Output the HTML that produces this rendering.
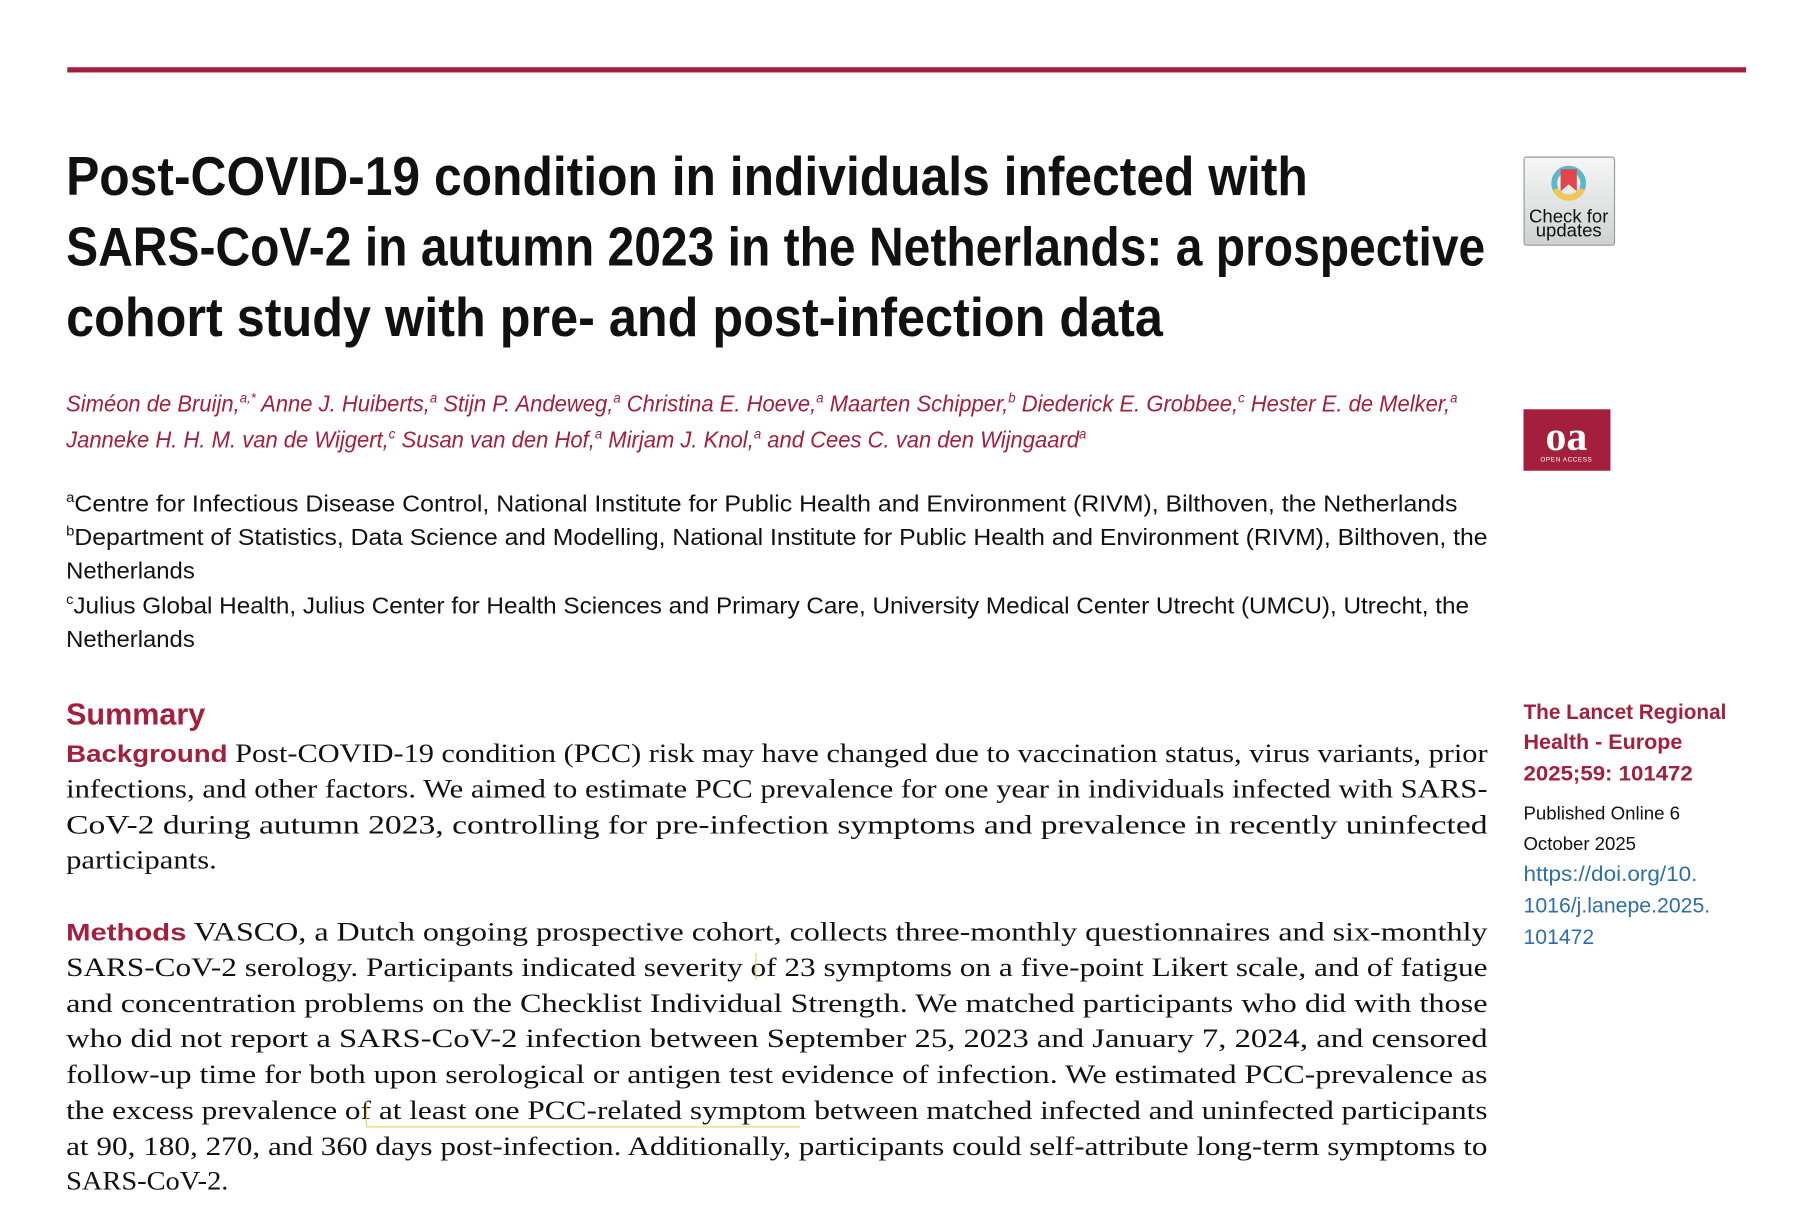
<!DOCTYPE html>
<html><head><meta charset="utf-8"><style>
html,body{margin:0;padding:0;background:#fff;width:1818px;height:1226px;overflow:hidden}
svg{display:block}
.t{font-family:"Liberation Sans",sans-serif;font-weight:bold;font-size:47px;fill:#111}
.a{font-family:"Liberation Sans",sans-serif;font-style:italic;font-size:20px;fill:#a31f3c}
.f{font-family:"Liberation Sans",sans-serif;font-size:20px;fill:#111}
.b{font-family:"Liberation Serif",serif;font-size:23px;fill:#111}
.r{font-family:"Liberation Sans",sans-serif;font-weight:bold;fill:#a31f3c}
.s{font-family:"Liberation Sans",sans-serif;font-size:16px;fill:#111}
.d{font-family:"Liberation Sans",sans-serif;font-size:18px;fill:#2f6ea8}
</style></head><body>
<svg width="1818" height="1226" viewBox="0 0 1568 1057.4" xmlns="http://www.w3.org/2000/svg">
<defs><linearGradient id="g" x1="0" y1="0" x2="0" y2="1"><stop offset="0" stop-color="#f7f7f7"/><stop offset="1" stop-color="#cfd1d1"/></linearGradient></defs>
<rect x="58" y="58" width="1448" height="4.5" fill="#a31f3c"/>
<text class="t" x="57" y="168" textLength="1071" lengthAdjust="spacingAndGlyphs">Post-COVID-19 condition in individuals infected with</text>
<text class="t" x="57" y="229" textLength="1224" lengthAdjust="spacingAndGlyphs">SARS-CoV-2 in autumn 2023 in the Netherlands: a prospective</text>
<text class="t" x="57" y="290" textLength="946" lengthAdjust="spacingAndGlyphs">cohort study with pre- and post-infection data</text>
<rect x="1314.5" y="135.5" width="78" height="76" rx="2" fill="url(#g)" stroke="#9a9a9a"/>
<circle cx="1353" cy="158" r="12.5" fill="none" stroke="#5bb8c9" stroke-width="5"/>
<path d="M1341.5 163 A12.5 12.5 0 0 0 1364.5 163" fill="none" stroke="#f3c64f" stroke-width="5"/>
<path d="M1346 146 h14 v19 l-7 -6 l-7 6z" fill="#e0474d"/>
<text class="s" x="1353" y="192" text-anchor="middle" font-size="11.5" fill="#444">Check for</text>
<text class="s" x="1353" y="204" text-anchor="middle" font-size="11.5" fill="#444">updates</text>
<text class="a" x="57" y="355" textLength="1200" lengthAdjust="spacingAndGlyphs">Siméon de Bruijn,<tspan font-size="12" dy="-8">a,*</tspan><tspan dy="8"> Anne J. Huiberts,</tspan><tspan font-size="12" dy="-8">a</tspan><tspan dy="8"> Stijn P. Andeweg,</tspan><tspan font-size="12" dy="-8">a</tspan><tspan dy="8"> Christina E. Hoeve,</tspan><tspan font-size="12" dy="-8">a</tspan><tspan dy="8"> Maarten Schipper,</tspan><tspan font-size="12" dy="-8">b</tspan><tspan dy="8"> Diederick E. Grobbee,</tspan><tspan font-size="12" dy="-8">c</tspan><tspan dy="8"> Hester E. de Melker,</tspan><tspan font-size="12" dy="-8">a</tspan></text>
<text class="a" x="57" y="386" textLength="880" lengthAdjust="spacingAndGlyphs">Janneke H. H. M. van de Wijgert,<tspan font-size="12" dy="-8">c</tspan><tspan dy="8"> Susan van den Hof,</tspan><tspan font-size="12" dy="-8">a</tspan><tspan dy="8"> Mirjam J. Knol,</tspan><tspan font-size="12" dy="-8">a</tspan><tspan dy="8"> and Cees C. van den Wijngaard</tspan><tspan font-size="12" dy="-8">a</tspan></text>
<rect x="1314" y="353" width="75" height="53" fill="#a31f3c"/>
<text x="1351" y="388" text-anchor="middle" font-family="Liberation Serif,serif" font-weight="bold" font-size="36" fill="#fff">oa</text>
<text x="1351" y="398" text-anchor="middle" font-family="Liberation Sans,sans-serif" font-size="5.5" fill="#fff" letter-spacing="0.5">OPEN ACCESS</text>
<text class="f" x="57" y="441" textLength="1200" lengthAdjust="spacingAndGlyphs"><tspan font-size="12" dy="-8">a</tspan><tspan dy="8">Centre for Infectious Disease Control, National Institute for Public Health and Environment (RIVM), Bilthoven, the Netherlands</tspan></text>
<text class="f" x="57" y="470" textLength="1226" lengthAdjust="spacingAndGlyphs"><tspan font-size="12" dy="-8">b</tspan><tspan dy="8">Department of Statistics, Data Science and Modelling, National Institute for Public Health and Environment (RIVM), Bilthoven, the</tspan></text>
<text class="f" x="57" y="499" textLength="111" lengthAdjust="spacingAndGlyphs">Netherlands</text>
<text class="f" x="57" y="529" textLength="1210" lengthAdjust="spacingAndGlyphs"><tspan font-size="12" dy="-8">c</tspan><tspan dy="8">Julius Global Health, Julius Center for Health Sciences and Primary Care, University Medical Center Utrecht (UMCU), Utrecht, the</tspan></text>
<text class="f" x="57" y="558" textLength="111" lengthAdjust="spacingAndGlyphs">Netherlands</text>
<text class="r" x="57" y="625" font-size="26" textLength="120" lengthAdjust="spacingAndGlyphs">Summary</text>
<text class="r" x="1314" y="620" font-size="18" textLength="175" lengthAdjust="spacingAndGlyphs">The Lancet Regional</text>
<text class="r" x="1314" y="646" font-size="18" textLength="137" lengthAdjust="spacingAndGlyphs">Health - Europe</text>
<text class="r" x="1314" y="673" font-size="18" textLength="146" lengthAdjust="spacingAndGlyphs">2025;59: 101472</text>
<text class="s" x="1314" y="707" textLength="135" lengthAdjust="spacingAndGlyphs">Published Online 6</text>
<text class="s" x="1314" y="733" textLength="97" lengthAdjust="spacingAndGlyphs">October 2025</text>
<text class="d" x="1314" y="760" textLength="150" lengthAdjust="spacingAndGlyphs">https://doi.org/10.</text>
<text class="d" x="1314" y="787" textLength="161" lengthAdjust="spacingAndGlyphs">1016/j.lanepe.2025.</text>
<text class="d" x="1314" y="814" textLength="61" lengthAdjust="spacingAndGlyphs">101472</text>
<g class="b">
<text x="57" y="657" textLength="1226" lengthAdjust="spacingAndGlyphs"><tspan fill="#a31f3c" font-family="Liberation Sans,sans-serif" font-weight="bold" font-size="21">Background</tspan> Post-COVID-19 condition (PCC) risk may have changed due to vaccination status, virus variants, prior</text>
<text x="57" y="688" textLength="1226" lengthAdjust="spacingAndGlyphs">infections, and other factors. We aimed to estimate PCC prevalence for one year in individuals infected with SARS-</text>
<text x="57" y="719" textLength="1226" lengthAdjust="spacingAndGlyphs">CoV-2 during autumn 2023, controlling for pre-infection symptoms and prevalence in recently uninfected</text>
<text x="57" y="749" textLength="130" lengthAdjust="spacingAndGlyphs">participants.</text>
<text x="57" y="811" textLength="1226" lengthAdjust="spacingAndGlyphs"><tspan fill="#a31f3c" font-family="Liberation Sans,sans-serif" font-weight="bold" font-size="21">Methods</tspan> VASCO, a Dutch ongoing prospective cohort, collects three-monthly questionnaires and six-monthly</text>
<text x="57" y="842" textLength="1226" lengthAdjust="spacingAndGlyphs">SARS-CoV-2 serology. Participants indicated severity of 23 symptoms on a five-point Likert scale, and of fatigue</text>
<text x="57" y="873" textLength="1226" lengthAdjust="spacingAndGlyphs">and concentration problems on the Checklist Individual Strength. We matched participants who did with those</text>
<text x="57" y="903" textLength="1226" lengthAdjust="spacingAndGlyphs">who did not report a SARS-CoV-2 infection between September 25, 2023 and January 7, 2024, and censored</text>
<text x="57" y="934" textLength="1226" lengthAdjust="spacingAndGlyphs">follow-up time for both upon serological or antigen test evidence of infection. We estimated PCC-prevalence as</text>
<text x="57" y="965" textLength="1226" lengthAdjust="spacingAndGlyphs">the excess prevalence of at least one PCC-related symptom between matched infected and uninfected participants</text>
<text x="57" y="996" textLength="1226" lengthAdjust="spacingAndGlyphs">at 90, 180, 270, and 360 days post-infection. Additionally, participants could self-attribute long-term symptoms to</text>
<text x="57" y="1026" textLength="140" lengthAdjust="spacingAndGlyphs">SARS-CoV-2.</text>
</g>
<path d="M652 822 v23 M316 950 v22 h374" fill="none" stroke="#f0d060" stroke-width="1"/>
</svg>
</body></html>
